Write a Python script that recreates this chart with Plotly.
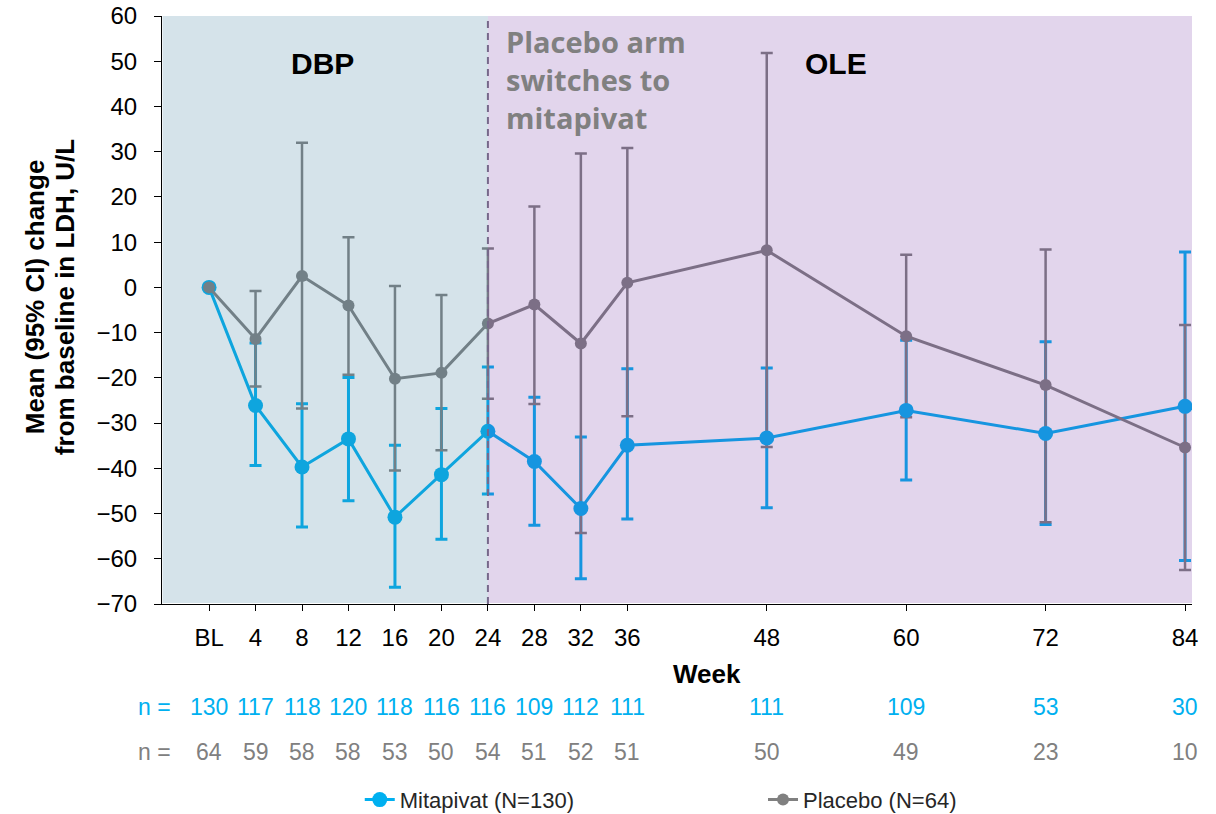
import plotly.graph_objects as go

# ---------------- data ----------------
weeks = [0, 4, 8, 12, 16, 20, 24, 28, 32, 36, 48, 60, 72, 84]
week_labels = ["BL", "4", "8", "12", "16", "20", "24", "28", "32", "36", "48", "60", "72", "84"]

mita_mean = [0, -26.1, -39.7, -33.5, -50.8, -41.4, -31.8, -38.5, -48.9, -34.9, -33.3, -27.2, -32.3, -26.3]
mita_upper = [0, -12.3, -25.7, -19.9, -34.9, -26.8, -17.6, -24.3, -33.1, -18.0, -17.8, -11.7, -12.0, 7.8]
mita_lower = [0, -39.4, -53.0, -47.2, -66.3, -55.7, -45.7, -52.6, -64.4, -51.2, -48.7, -42.6, -52.4, -60.4]

pbo_mean = [0, -11.4, 2.5, -4.0, -20.2, -18.9, -8.0, -3.8, -12.4, 1.0, 8.2, -10.8, -21.6, -35.4]
pbo_upper = [0, -0.8, 32.0, 11.1, 0.3, -1.7, 8.6, 17.9, 29.6, 30.8, 51.8, 7.2, 8.4, -8.3]
pbo_lower = [0, -21.9, -26.8, -19.3, -40.5, -36.0, -24.6, -25.8, -54.3, -28.5, -35.3, -28.7, -51.9, -62.5]

n_mita = [130, 117, 118, 120, 118, 116, 116, 109, 112, 111, 111, 109, 53, 30]
n_pbo = [64, 59, 58, 58, 53, 50, 54, 51, 52, 51, 50, 49, 23, 10]

switch_week = 24
x_range = [-4.05, 84.6]
y_range = [-70, 60]

BLUE = "#00b0f0"
GRAY = "#808080"
FONT = "Arial, Liberation Sans, sans-serif"

err_m_plus = [u - m for u, m in zip(mita_upper, mita_mean)]
err_m_minus = [m - l for m, l in zip(mita_mean, mita_lower)]
err_p_plus = [u - m for u, m in zip(pbo_upper, pbo_mean)]
err_p_minus = [m - l for m, l in zip(pbo_mean, pbo_lower)]

fig = go.Figure()

# error bars (blue first, then gray on top)
fig.add_trace(go.Scatter(
    x=weeks, y=mita_mean, mode="markers", marker=dict(size=1, opacity=0),
    error_y=dict(type="data", symmetric=False, array=err_m_plus, arrayminus=err_m_minus,
                 color=BLUE, thickness=3, width=6),
    showlegend=False, hoverinfo="skip"))
fig.add_trace(go.Scatter(
    x=weeks, y=pbo_mean, mode="markers", marker=dict(size=1, opacity=0),
    error_y=dict(type="data", symmetric=False, array=err_p_plus, arrayminus=err_p_minus,
                 color=GRAY, thickness=2.5, width=6),
    showlegend=False, hoverinfo="skip"))
# lines + markers
fig.add_trace(go.Scatter(
    x=weeks, y=mita_mean, mode="lines+markers", name="Mitapivat (N=130)",
    line=dict(color=BLUE, width=3), marker=dict(color=BLUE, size=15),
    legend="legend"))
fig.add_trace(go.Scatter(
    x=weeks, y=pbo_mean, mode="lines+markers", name="Placebo (N=64)",
    line=dict(color=GRAY, width=3), marker=dict(color=GRAY, size=12),
    legend="legend2"))

# translucent period overlays (drawn above the data, like the original)
fig.add_shape(type="rect", xref="x", yref="y", x0=x_range[0] + 0.05, x1=switch_week,
              y0=y_range[0] + 0.2, y1=y_range[1], fillcolor="rgb(64,128,160)", opacity=0.22,
              line=dict(width=0), layer="above")
fig.add_shape(type="rect", xref="x", yref="y", x0=switch_week, x1=x_range[1],
              y0=y_range[0] + 0.2, y1=y_range[1], fillcolor="rgb(110,45,160)", opacity=0.2,
              line=dict(width=0), layer="above")
fig.add_shape(type="line", xref="x", yref="y", x0=switch_week, x1=switch_week,
              y0=y_range[0], y1=y_range[1], line=dict(color="#76688a", width=2, dash="7px,5px"),
              layer="above")

# period labels
fig.add_annotation(x=9.8, y=0.951, xref="x", yref="paper", text="<b>DBP</b>", showarrow=False,
                   font=dict(family=FONT, size=30, color="black"))
fig.add_annotation(x=54.0, y=0.951, xref="x", yref="paper", text="<b>OLE</b>", showarrow=False,
                   font=dict(family=FONT, size=30, color="black"))
for i, line in enumerate(["Placebo arm", "switches to", "mitapivat"]):
    fig.add_annotation(x=25.4, y=0.956 - i * 0.0645, xref="x", yref="paper", xanchor="left",
                       yanchor="middle", text="<b>" + line + "</b>", showarrow=False,
                       font=dict(family="Open Sans, Arial, sans-serif", size=29, color="#808080"))

# y-axis title (two lines)
for xp, line in [(-0.1232, "Mean (95% CI) change"), (-0.0941, "from baseline in LDH, U/L")]:
    fig.add_annotation(x=xp, y=0.522, xref="paper", yref="paper", textangle=-90,
                       text="<b>" + line + "</b>", showarrow=False,
                       xanchor="center", yanchor="middle",
                       font=dict(family=FONT, size=26, color="black"))

# x-axis title
fig.add_annotation(x=0.529, y=-0.119, xref="paper", yref="paper",
                   text="<b>Week</b>", showarrow=False, xanchor="center", yanchor="middle",
                   font=dict(family=FONT, size=26, color="black"))

# n rows
fig.add_annotation(x=-0.007, y=-0.175, xref="paper", yref="paper", text="n =", showarrow=False,
                   xanchor="center", yanchor="middle", font=dict(family=FONT, size=23, color=BLUE))
fig.add_annotation(x=-0.007, y=-0.252, xref="paper", yref="paper", text="n =", showarrow=False,
                   xanchor="center", yanchor="middle", font=dict(family=FONT, size=23, color=GRAY))
for w, a, b in zip(weeks, n_mita, n_pbo):
    fig.add_annotation(x=w, y=-0.175, xref="x", yref="paper", text=str(a), showarrow=False,
                       xanchor="center", yanchor="middle", font=dict(family=FONT, size=23, color=BLUE))
    fig.add_annotation(x=w, y=-0.252, xref="x", yref="paper", text=str(b), showarrow=False,
                       xanchor="center", yanchor="middle", font=dict(family=FONT, size=23, color=GRAY))

fig.update_layout(
    width=1216, height=814,
    margin=dict(l=162, r=24, t=16, b=210, autoexpand=False),
    paper_bgcolor="white", plot_bgcolor="white",
    font=dict(family=FONT, size=22, color="black"),
    xaxis=dict(range=x_range, tickvals=weeks, ticktext=week_labels, showgrid=False, zeroline=False,
               showline=True, linecolor="black", linewidth=1, ticks="outside", ticklen=6,
               tickcolor="black", tickfont=dict(family=FONT, size=24, color="black"),
               ticklabelstandoff=6),
    yaxis=dict(range=y_range, dtick=10, showgrid=False, zeroline=False, showline=True,
               linecolor="black", linewidth=1, ticks="outside", ticklen=7, tickcolor="black",
               tickfont=dict(family=FONT, size=24, color="black"), ticklabelstandoff=12),
    legend=dict(orientation="h", x=0.192, y=-0.333, xanchor="left", yanchor="middle",
                font=dict(family=FONT, size=22, color="#262626"), bgcolor="rgba(0,0,0,0)"),
    legend2=dict(orientation="h", x=0.5835, y=-0.333, xanchor="left", yanchor="middle",
                 font=dict(family=FONT, size=22, color="#262626"), bgcolor="rgba(0,0,0,0)"),
)

fig.write_html("out.html", config={"displayModeBar": False},
               post_script="document.body.style.margin='0px';")
